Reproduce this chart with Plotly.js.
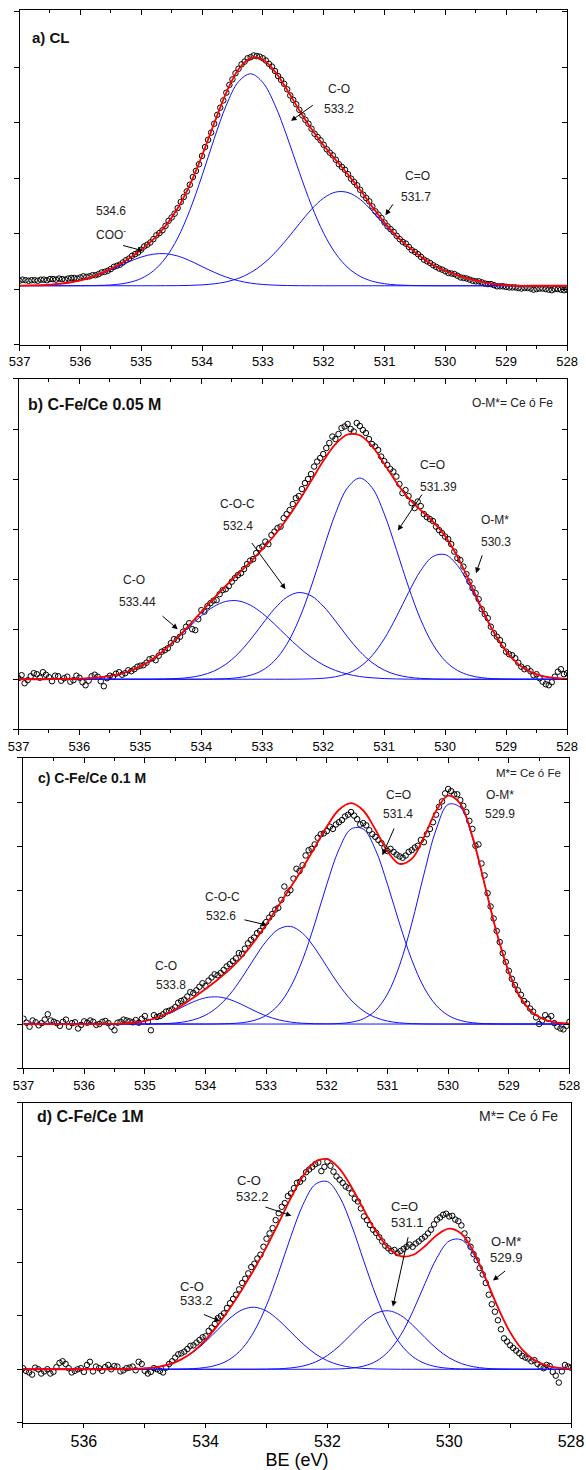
<!DOCTYPE html>
<html><head><meta charset="utf-8">
<script src="https://cdn.plot.ly/plotly-3.0.1.min.js"></script>
<style>html,body{margin:0;padding:0;background:#fff}#chart{width:586px;height:1470px}</style>
</head><body><div id="chart"></div>
<script>
// Binding energy grids (eV)
const beFit = [537.0,536.8,536.6,536.4,536.2,536.0,535.8,535.6,535.4,535.2,535.0,534.8,534.6,534.4,534.2,534.0,533.8,533.6,533.4,533.2,533.0,532.8,532.6,532.4,532.2,532.0,531.8,531.6,531.4,531.2,531.0,530.8,530.6,530.4,530.2,530.0,529.8,529.6,529.4,529.2,529.0,528.8,528.6,528.4,528.2,528.0];
const beData = [537.0,536.9,536.8,536.7,536.6,536.5,536.4,536.3,536.2,536.1,536.0,535.9,535.8,535.7,535.6,535.5,535.4,535.3,535.2,535.1,535.0,534.9,534.8,534.7,534.6,534.5,534.4,534.3,534.2,534.1,534.0,533.9,533.8,533.7,533.6,533.5,533.4,533.3,533.2,533.1,533.0,532.9,532.8,532.7,532.6,532.5,532.4,532.3,532.2,532.1,532.0,531.9,531.8,531.7,531.6,531.5,531.4,531.3,531.2,531.1,531.0,530.9,530.8,530.7,530.6,530.5,530.4,530.3,530.2,530.1,530.0,529.9,529.8,529.7,529.6,529.5,529.4,529.3,529.2,529.1,529.0,528.9,528.8,528.7,528.6,528.5,528.4,528.3,528.2,528.1,528.0];
const beData2 = [536.95,536.85,536.75,536.65,536.55,536.45,536.35,536.25,536.15,536.05,535.95,535.85,535.75,535.65,535.55,535.45,535.35,535.25,535.15,535.05,534.95,534.85,534.75,534.65,534.55,534.45,534.35,534.25,534.15,534.05,533.95,533.85,533.75,533.65,533.55,533.45,533.35,533.25,533.15,533.05,532.95,532.85,532.75,532.65,532.55,532.45,532.35,532.25,532.15,532.05,531.95,531.85,531.75,531.65,531.55,531.45,531.35,531.25,531.15,531.05,530.95,530.85,530.75,530.65,530.55,530.45,530.35,530.25,530.15,530.05,529.95,529.85,529.75,529.65,529.55,529.45,529.35,529.25,529.15,529.05,528.95,528.85,528.75,528.65,528.55,528.45,528.35,528.25,528.15,528.05];

// ---- a) CL ----
const aBase = 0.06;
const aCO  = [0,0,0,0,0,0.001,0.003,0.009,0.024,0.059, 0.131,0.267,0.500,0.860,1.361,1.981,2.649,3.255,3.678,3.820, 3.663,3.255,2.681,2.045,1.446,0.947,0.575,0.324,0.169,0.081, 0.037,0.015,0.006,0.002,0,0,0,0,0,0, 0,0,0,0,0,0];
const aCdO = [0,0,0,0,0,0,0,0,0,0, 0,0,0.001,0.002,0.006,0.016,0.035,0.071,0.134,0.237, 0.389,0.594,0.845,1.118,1.378,1.581,1.689,1.680,1.556,1.341, 1.10,0.88,0.69,0.52,0.37,0.27,0.19,0.12,0.07,0.03, 0.01,0,0,0,0,0];
const aCOO = [0.002,0.006,0.013,0.028,0.054,0.096,0.158,0.240,0.335,0.433, 0.517,0.569,0.578,0.536,0.452,0.347,0.243,0.155,0.090,0.047, 0.023,0.010,0.004,0.001,0,0,0,0,0,0, 0,0,0,0,0,0,0,0,0,0, 0,0,0,0,0,0];
const aData = [0.15,0.16,0.16,0.15,0.17,0.18,0.17,0.18,0.19,0.20, 0.21,0.22,0.25,0.27,0.31,0.36,0.42,0.48,0.55,0.63, 0.71,0.80,0.90,1.01,1.14,1.29,1.46,1.66,1.88,2.13, 2.40,2.69,2.98,3.27,3.54,3.78,3.97,4.10,4.18,4.20, 4.16,4.06,3.93,3.77,3.60,3.41,3.23,3.05,2.89,2.74, 2.60,2.46,2.33,2.20,2.07,1.93,1.79,1.64,1.49,1.34, 1.20,1.08,0.96,0.85,0.76,0.67,0.58,0.50,0.43,0.37, 0.32,0.28,0.24,0.20,0.17,0.14,0.12,0.09,0.07,0.05, 0.04,0.03,0.02,0.02,0.01,0.00,0.01,-0.01,0.00,-0.01, -0.01];
const aData2 = [0.17,0.15,0.16,0.17,0.16,0.18,0.19,0.17,0.20,0.19, 0.23,0.23,0.25,0.30,0.33,0.40,0.44,0.52,0.60,0.66, 0.77,0.84,0.97,1.06,1.23,1.36,1.57,1.76,2.02,2.25, 2.56,2.82,3.14,3.40,3.68,3.89,4.05,4.16,4.21,4.19, 4.12,4.01,3.84,3.70,3.49,3.33,3.13,2.98,2.80,2.68, 2.52,2.41,2.25,2.15,1.99,1.87,1.70,1.58,1.40,1.28, 1.13,1.03,0.90,0.82,0.70,0.63,0.53,0.47,0.40,0.35, 0.29,0.27,0.21,0.19,0.15,0.14,0.10,0.09,0.05,0.05, 0.03,0.03,0.01,0.02,-0.01,0.01,0.00,-0.02,0.00,-0.02];

// ---- b) C-Fe/Ce 0.05 M ----
const bCO  = [0,0,0,0.002,0.005,0.011,0.023,0.046,0.087,0.154, 0.256,0.399,0.585,0.806,1.043,1.268,1.448,1.554,1.566,1.483, 1.319,1.102,0.865,0.638,0.442,0.287,0.176,0.101,0.054,0.028, 0.013,0.006,0.002,0,0,0,0,0,0,0, 0,0,0,0,0,0];
const bCOC = [0,0,0,0,0,0,0,0,0,0, 0,0.001,0.005,0.014,0.034,0.078,0.159,0.298,0.506,0.782, 1.100,1.407,1.637,1.732,1.668,1.461,1.164,0.844,0.556,0.334, 0.182,0.090,0.041,0.017,0.006,0.002,0,0,0,0, 0,0,0,0,0,0];
const bCdO = [0,0,0,0,0,0,0,0,0,0, 0,0,0,0,0,0,0.004,0.011,0.031,0.077, 0.177,0.368,0.694,1.188,1.842,2.592,3.308,3.829,4.020,3.829, 3.308,2.592,1.842,1.188,0.694,0.368,0.177,0.077,0.031,0.011, 0.004,0,0,0,0,0];
const bOM  = [0,0,0,0,0,0,0,0,0,0, 0,0,0,0,0,0,0,0,0,0, 0,0,0,0.002,0.007,0.019,0.049,0.116,0.246,0.469, 0.805,1.245,1.733,2.172,2.451,2.490,2.277,1.875,1.390,0.928, 0.558,0.302,0.147,0.064,0.025,0.009];
const bData = [0.02,-0.08,0.06,0.10,0.14,0.04,0.07,-0.03,0.05,-0.02, 0.03,-0.12,0.06,0.05,-0.14,0.07,0.11,0.09,0.18,0.20, 0.27,0.33,0.42,0.47,0.58,0.72,0.79,0.95,1.12,0.98, 1.38,1.46,1.57,1.70,1.80,1.95,2.08,2.20,2.37,2.52, 2.65,2.70,2.95,3.05,3.30,3.50,3.66,3.92,4.10,4.35, 4.50,4.72,4.80,5.02,5.10,4.95,5.06,4.92,4.70,4.58, 4.36,4.20,4.05,3.72,3.66,3.42,3.46,3.24,3.16,2.98, 2.85,2.70,2.42,2.25,1.95,1.72,1.40,1.22,0.92,0.78, 0.55,0.48,0.33,0.20,0.16,0.10,-0.05,-0.12,0.05,0.20, 0.12];
const bData2 = [0.08,-0.02,0.12,0.03,0.09,-0.04,0.06,0.02,-0.05,0.07, -0.06,-0.03,0.09,-0.04,0.02,0.05,0.14,0.12,0.16,0.25, 0.28,0.40,0.38,0.55,0.62,0.80,0.85,1.05,1.00,1.20, 1.35,1.52,1.58,1.78,1.86,2.02,2.12,2.30,2.40,2.62, 2.75,2.88,3.02,3.22,3.38,3.62,3.80,4.00,4.25,4.42, 4.62,4.85,4.90,5.05,5.00,5.12,4.98,4.80,4.65,4.45, 4.28,4.15,3.90,3.78,3.52,3.55,3.30,3.20,3.05,2.92, 2.80,2.55,2.38,2.10,1.82,1.60,1.30,1.05,0.85,0.68, 0.50,0.42,0.25,0.22,0.08,0.02,-0.10,-0.06,0.15,0.10];

// ---- c) C-Fe/Ce 0.1 M ----
const cCO  = [0,0,0,0,0,0,0,0.004,0.011,0.029, 0.068,0.137,0.241,0.371,0.501,0.592,0.612,0.554,0.439,0.304, 0.184,0.098,0.045,0.018,0.007,0.002,0,0,0,0, 0,0,0,0,0,0,0,0,0,0, 0,0,0,0,0,0];
const cCOC = [0,0,0,0,0,0,0,0,0,0, 0,0.005,0.015,0.039,0.094,0.200,0.385,0.667,1.043,1.469, 1.865,2.135,2.202,2.048,1.716,1.296,0.883,0.542,0.300,0.149, 0.067,0.027,0.010,0.003,0,0,0,0,0,0, 0,0,0,0,0,0];
const cCdO = [0,0,0,0,0,0,0,0,0,0, 0,0,0,0,0,0,0.003,0.010,0.030,0.081, 0.196,0.426,0.830,1.448,2.258,3.151,3.936,4.398,4.398,3.936, 3.151,2.258,1.448,0.830,0.426,0.196,0.081,0.030,0.010,0.003, 0,0,0,0,0,0];
const cOM  = [0,0,0,0,0,0,0,0,0,0, 0,0,0,0,0,0,0,0,0,0, 0,0,0,0,0,0.003,0.012,0.040,0.117,0.301, 0.677,1.327,2.265,3.373,4.377,4.952,4.885,4.201,3.149,2.058, 1.172,0.582,0.252,0.095,0.031,0.009];
const cData = [0.12,-0.06,0.04,0.02,0.22,0.05,-0.04,0.10,0.02,-0.10, 0.06,0.08,-0.02,0.05,0.02,-0.14,0.05,0.08,0.04,0.03, 0.18,-0.14,0.16,0.22,0.30,0.38,0.52,0.62,0.70,0.84, 0.86,1.05,1.10,1.22,1.35,1.48,1.58,1.82,1.95,2.10, 2.30,2.48,2.62,3.10,3.02,3.50,3.58,3.92,4.05,4.28, 4.35,4.40,4.55,4.68,4.78,4.62,4.53,4.37,4.22,4.08, 3.90,3.88,3.78,3.80,3.92,4.02,4.10,4.40,4.72,5.02, 5.30,5.18,5.05,4.78,4.40,4.05,3.35,2.65,2.10,1.60, 1.20,0.88,0.66,0.46,0.28,0.00,0.20,0.18,-0.06,-0.12, 0.05];
const cData2 = [0.03,0.08,-0.03,0.10,0.08,0.02,0.05,-0.06,0.04,-0.02, 0.03,0.05,0.00,0.07,-0.06,0.03,0.10,0.06,0.09,0.12, 0.05,0.20,0.18,0.28,0.33,0.48,0.55,0.72,0.76,0.92, 0.98,1.12,1.15,1.30,1.42,1.60,1.70,1.90,2.05,2.20, 2.40,2.58,2.80,2.95,3.28,3.45,3.80,3.95,4.20,4.30, 4.45,4.50,4.60,4.72,4.70,4.50,4.48,4.28,4.15,3.98, 3.95,3.82,3.75,3.88,3.98,4.15,4.28,4.55,4.90,5.20, 5.25,5.18,4.92,4.58,4.02,3.62,2.95,2.38,1.85,1.40, 1.02,0.76,0.52,0.35,0.15,0.08,0.12,0.02,-0.10,-0.04];

// ---- d) C-Fe/Ce 1M ----
const dCO1 = [0,0,0,0,0,0,0,0,0.002,0.006, 0.017,0.042,0.092,0.182,0.324,0.518,0.744,0.961,1.116,1.164, 1.092,0.921,0.698,0.475,0.291,0.160,0.079,0.035,0.014,0.005, 0.002,0,0,0,0,0,0,0,0,0, 0,0,0,0,0,0];
const dCO2 = [0,0,0,0,0,0,0,0,0,0, 0,0,0,0.004,0.012,0.034,0.084,0.190,0.388,0.719, 1.202,1.821,2.495,3.094,3.471,3.523,3.236,2.690,2.023,1.377, 0.847,0.472,0.238,0.109,0.045,0.017,0.006,0.002,0,0, 0,0,0,0,0,0];
const dCdO = [0,0,0,0,0,0,0,0,0,0, 0,0,0,0,0,0,0,0,0,0, 0.003,0.009,0.025,0.061,0.134,0.259,0.442,0.667,0.891,1.052, 1.098,1.014,0.828,0.597,0.381,0.215,0.107,0.047,0.018,0.006, 0.002,0,0,0,0,0];
const dOM  = [0,0,0,0,0,0,0,0,0,0, 0,0,0,0,0,0,0,0,0,0, 0,0,0,0,0,0.002,0.007,0.021,0.061,0.151, 0.331,0.637,1.079,1.604,2.096,2.408,2.431,2.158,1.683,1.154, 0.695,0.369,0.172,0.070,0.025,0.008];
const dData = [0.02,-0.06,0.03,-0.08,0.00,-0.05,0.12,0.10,-0.06,0.00, -0.05,0.14,0.05,-0.03,0.08,0.06,-0.04,0.02,0.05,0.14, -0.03,-0.05,0.00,-0.06,0.10,0.22,0.30,0.38,0.45,0.55, 0.62,0.78,0.96,1.05,1.24,1.40,1.62,1.80,1.98,2.15, 2.45,2.65,2.93,3.12,3.30,3.50,3.58,3.75,3.85,3.72, 3.90,3.71,3.56,3.43,3.30,3.15,2.87,2.71,2.56,2.40, 2.27,2.24,2.22,2.30,2.30,2.40,2.49,2.62,2.81,2.90, 2.87,2.81,2.70,2.43,2.16,1.90,1.62,1.22,0.92,0.58, 0.45,0.35,0.25,0.20,0.17,0.05,0.08,-0.05,-0.25,0.08, 0.03];
const dData2 = [-0.03,-0.10,0.00,-0.04,-0.08,0.04,0.15,0.02,-0.03,0.02, 0.08,-0.04,0.02,0.04,0.00,0.05,-0.02,0.03,-0.02,0.10, -0.08,0.02,-0.03,0.03,0.15,0.28,0.33,0.44,0.50,0.60, 0.72,0.85,1.00,1.15,1.32,1.50,1.70,1.92,2.08,2.30, 2.55,2.80,3.05,3.25,3.40,3.52,3.70,3.80,3.88,3.80, 3.82,3.62,3.50,3.40,3.20,3.02,2.80,2.62,2.48,2.32, 2.22,2.18,2.26,2.34,2.36,2.45,2.55,2.72,2.85,2.92, 2.88,2.78,2.55,2.30,2.05,1.78,1.40,1.08,0.75,0.52, 0.40,0.30,0.22,0.15,0.10,0.02,0.06,-0.12,-0.04,0.05];

const FONT = 'Liberation Sans, Arial, Helvetica, sans-serif';
const panels = [
  {s:'',  comps:[aCO,aCdO,aCOO], data:aData, data2:aData2, base:aBase, xd:[0.0333,0.9676], yd:[0.7656,0.9932], yr:[-1,5.03], mirrorTicks:true},
  {s:'2', comps:[bCO,bCOC,bCdO,bOM], data:bData, data2:bData2, base:0, xd:[0.0316,0.9676], yd:[0.5039,0.7422], yr:[-1,6.0], mirrorTicks:true},
  {s:'3', comps:[cCO,cCOC,cCdO,cOM], data:cData, data2:cData2, base:0, xd:[0.0401,0.9718], yd:[0.2732,0.4844], yr:[-1,6.0], mirrorTicks:true},
  {s:'4', comps:[dCO1,dCO2,dCdO,dOM], data:dData, data2:dData2, base:0, xd:[0.0392,0.9744], yd:[0.0323,0.2497], yr:[-1,5.0], mirrorTicks:false}
];

const traces = [];
const layout = {
  width:586, height:1470, margin:{l:0,r:0,t:0,b:0},
  paper_bgcolor:'#fff', plot_bgcolor:'#fff', showlegend:false,
  font:{family:FONT, color:'#000'}, annotations:[]
};
const markerStyle = {symbol:'circle-open', size:5.5, color:'#000', line:{width:1, color:'#000'}};

panels.forEach((p, i) => {
  const xa = 'x'+p.s, ya = 'y'+p.s;
  traces.push({type:'scatter', mode:'markers', x:beData, y:p.data, xaxis:xa, yaxis:ya, marker:markerStyle, hoverinfo:'skip'});
  traces.push({type:'scatter', mode:'markers', x:beData2, y:p.data2, xaxis:xa, yaxis:ya, marker:markerStyle, hoverinfo:'skip'});
  p.comps.forEach(c => {
    traces.push({type:'scatter', mode:'lines', x:beFit, y:c.map(v => v + p.base), xaxis:xa, yaxis:ya,
      line:{color:'#1010ff', width:1, shape:'spline', smoothing:1}, hoverinfo:'skip'});
  });
  const env = beFit.map((_, k) => p.comps.reduce((acc, c) => acc + c[k], p.base));
  traces.push({type:'scatter', mode:'lines', x:beFit, y:env, xaxis:xa, yaxis:ya,
    line:{color:'#ff0000', width:1.8, shape:'spline', smoothing:1}, hoverinfo:'skip'});

  const isD = (i === 3);
  const xkey = 'xaxis'+p.s, ykey = 'yaxis'+p.s;
  layout[xkey] = {
    domain:p.xd, anchor:ya, range:[537,528], showgrid:false, zeroline:false,
    showline:true, linecolor:'#000', linewidth:1, mirror:true,
    tickmode:'linear', tick0:528, dtick:isD?2:1,
    ticks:'outside', ticklen:isD?4:5, tickwidth:1, tickcolor:'#000',
    tickfont:{family:FONT, size:isD?16:13, color:'#000'},
    minor:{dtick:isD?1:0.5, tick0:528, ticks:'outside', ticklen:isD?4:3, tickwidth:1, tickcolor:'#000'}
  };
  if (isD) {
    layout[xkey].title = {text:'BE (eV)', font:{family:FONT, size:18, color:'#000'}, standoff:4};
  }
  layout[ykey] = {
    domain:p.yd, anchor:xa, range:p.yr, showgrid:false, zeroline:false,
    showline:true, linecolor:'#000', linewidth:1, mirror:true,
    tickmode:'linear', tick0:0, dtick:1, ticks:'outside', ticklen:5, tickwidth:1, tickcolor:'#000',
    showticklabels:false
  };
  if (p.mirrorTicks) {
    const n = String(5 + i);
    layout['xaxis'+n] = {overlaying:xa, anchor:ya, side:'top', range:[537,528], showgrid:false, zeroline:false,
      showline:false, showticklabels:false, tickmode:'linear', tick0:528, dtick:1,
      ticks:'inside', ticklen:5, tickwidth:1, tickcolor:'#000',
      minor:{dtick:0.5, tick0:528, ticks:'inside', ticklen:3, tickwidth:1, tickcolor:'#000'}};
    layout['yaxis'+n] = {overlaying:ya, anchor:xa, side:'right', range:p.yr, showgrid:false, zeroline:false,
      showline:false, showticklabels:false, tickmode:'linear', tick0:0, dtick:1,
      ticks:'inside', ticklen:5, tickwidth:1, tickcolor:'#000'};
    traces.push({type:'scatter', mode:'markers', x:[], y:[], xaxis:'x'+n, yaxis:ya, hoverinfo:'skip'});
    traces.push({type:'scatter', mode:'markers', x:[], y:[], xaxis:xa, yaxis:'y'+n, hoverinfo:'skip'});
  }
});

function lab(s, text, x, y, size, opts) {
  return Object.assign({xref:'x'+s, yref:'y'+s, x:x, y:y, text:text, showarrow:false,
    xanchor:'center', yanchor:'middle', font:{family:FONT, size:size, color:'#222'}}, opts || {});
}
function arr(s, hx, hy, tx, ty) {
  return {xref:'x'+s, yref:'y'+s, axref:'x'+s, ayref:'y'+s, x:hx, y:hy, ax:tx, ay:ty, text:'',
    showarrow:true, arrowhead:2, arrowsize:1.1, arrowwidth:1, arrowcolor:'#000'};
}
const A = layout.annotations;
// Panel a
A.push(lab('', '<b>a) CL</b>', 536.83, 4.54, 15, {xanchor:'left', font:{family:FONT, size:15, color:'#111'}}));
A.push(lab('', 'C-O', 531.75, 3.60, 12));
A.push(lab('', '533.2', 531.75, 3.24, 12));
A.push(arr('', 532.537, 3.032, 532.154, 3.333));
A.push(lab('', 'C=O', 530.465, 2.036, 12));
A.push(lab('', '531.7', 530.48, 1.658, 12));
A.push(arr('', 530.985, 1.333, 530.844, 1.555));
A.push(lab('', '534.6', 535.50, 1.405, 12));
A.push(lab('', 'COO<sup>-</sup>', 535.50, 1.0, 12));
A.push(arr('', 534.970, 0.69, 535.322, 0.793));
// Panel b
A.push(lab('2', '<b>b) C-Fe/Ce 0.05 M</b>', 536.877, 5.486, 16, {xanchor:'left', font:{family:FONT, size:16, color:'#111'}}));
A.push(lab('2', 'O-M*= Ce ó Fe', 528.196, 5.526, 12, {xanchor:'right'}));
A.push(lab('2', 'C-O', 535.111, 1.986, 12));
A.push(lab('2', '533.44', 535.044, 1.546, 12));
A.push(arr('2', 534.388, 1.0, 534.662, 1.286));
A.push(lab('2', 'C-O-C', 533.414, 3.506, 12));
A.push(lab('2', '532.4', 533.391, 3.066, 12));
A.push(arr('2', 532.619, 1.8, 533.190, 2.752));
A.push(lab('2', 'C=O', 530.215, 4.286, 12));
A.push(lab('2', '531.39', 530.116, 3.846, 12));
A.push(arr('2', 530.776, 2.972, 530.364, 3.72));
A.push(lab('2', 'O-M*', 529.186, 3.186, 12));
A.push(lab('2', '530.3', 529.164, 2.746, 12));
A.push(arr('2', 529.493, 2.12, 529.383, 2.506));
// Panel c
A.push(lab('3', '<b>c) C-Fe/Ce 0.1 M</b>', 536.802, 5.541, 14, {xanchor:'left', font:{family:FONT, size:14, color:'#111'}}));
A.push(lab('3', 'M*= Ce ó Fe', 528.108, 5.653, 11.5, {xanchor:'right'}));
A.push(lab('3', 'C=O', 530.811, 5.158, 12));
A.push(lab('3', '531.4', 530.831, 4.73, 12));
A.push(arr('3', 531.084, 3.806, 530.880, 4.444));
A.push(lab('3', 'O-M*', 529.153, 5.158, 12));
A.push(lab('3', '529.9', 529.141, 4.73, 12));
A.push(lab('3', 'C-O-C', 533.712, 2.86, 12));
A.push(lab('3', '532.6', 533.745, 2.432, 12));
A.push(arr('3', 532.986, 2.23, 533.382, 2.358));
A.push(lab('3', 'C-O', 534.643, 1.306, 12));
A.push(lab('3', '533.8', 534.575, 0.878, 12));
// Panel d
A.push(lab('4', '<b>d) C-Fe/Ce 1M</b>', 536.795, 4.742, 16, {xanchor:'left', font:{family:FONT, size:16, color:'#111'}}));
A.push(lab('4', 'M*= Ce ó Fe', 528.182, 4.761, 14, {xanchor:'right'}));
A.push(lab('4', 'C-O', 533.289, 3.539, 13));
A.push(lab('4', '532.2', 533.223, 3.239, 13));
A.push(arr('4', 532.591, 2.882, 533.043, 3.056));
A.push(lab('4', 'C=O', 530.727, 3.051, 13));
A.push(lab('4', '531.1', 530.678, 2.75, 13));
A.push(arr('4', 530.925, 1.177, 530.670, 2.506));
A.push(lab('4', 'O-M*', 529.069, 2.393, 13));
A.push(lab('4', '529.9', 529.064, 2.092, 13));
A.push(arr('4', 529.282, 1.665, 529.057, 1.867));
A.push(lab('4', 'C-O', 534.220, 1.547, 13));
A.push(lab('4', '533.2', 534.151, 1.284, 13));
A.push(arr('4', 533.765, 0.902, 534.053, 1.039));

Plotly.newPlot('chart', traces, layout, {staticPlot:true, displayModeBar:false});
</script></body></html>
